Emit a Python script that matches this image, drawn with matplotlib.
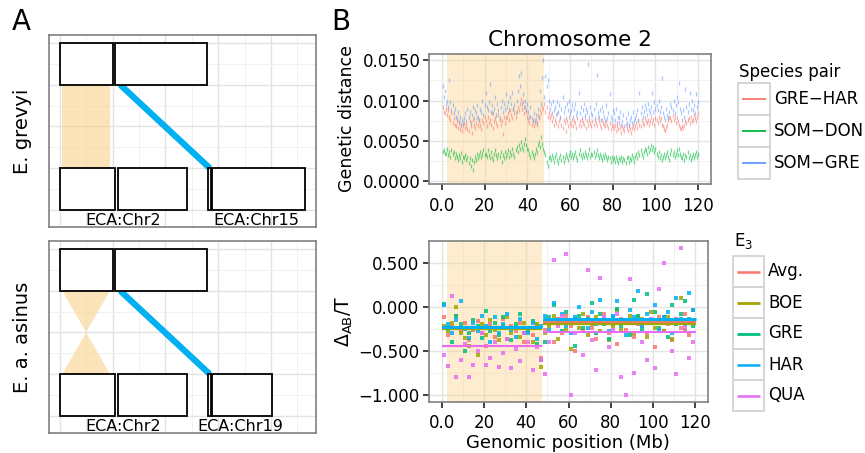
import matplotlib
matplotlib.use('Agg')
import matplotlib.pyplot as plt
from matplotlib.patches import Rectangle, Polygon
import numpy as np

plt.rcParams['font.family'] = ['DejaVu Sans']
plt.rcParams['mathtext.default'] = 'regular'

# ---------------- data ----------------
# panel A: chromosome blocks (Mb), top row is ECA2 split in two blocks
top_starts = [0, 52.5]
top_ends = [50.5, 139.3]
grevyi_starts = [0, 54.7, 140.6, 144.4]
grevyi_ends = [52.1, 120.1, 142.8, 232.2]
asinus_starts = [0, 54.7, 140.6, 144.4]
asinus_ends = [52.1, 120.1, 142.8, 201.0]
grevyi_labels = ['ECA:Chr2', 'ECA:Chr15']
grevyi_label_x = [60, 186.4]
asinus_labels = ['ECA:Chr2', 'ECA:Chr19']
asinus_label_x = [60, 170.8]
inversion = (2.1, 47.5)
link_x = [57, 142]

# panel B top: genetic distance per 0.5 Mb window (x 1e-4)
pairs = ['GRE\u2212HAR', 'SOM\u2212DON', 'SOM\u2212GRE']
pair_colors = ['#F8766D', '#00BA38', '#619CFF']
gre_har = [
    92, 86, 84, 90, 82, 88, 80, 76, 84, 72, 78, 70, 68, 74, 66, 72, 64, 70, 62, 68,
    72, 66, 70, 64, 62, 74, 68, 60, 76, 70, 66, 72, 78, 68, 74, 70, 64, 76, 72, 80,
    74, 68, 80, 72, 76, 70, 84, 66, 74, 78, 72, 68, 82, 76, 70, 74, 58, 80, 72, 78,
    80, 84, 76, 88, 82, 78, 90, 84, 80, 86, 92, 88, 96, 102, 90, 98, 84, 92, 86, 80,
    76, 72, 80, 70, 74, 68, 72, 76, 70, 82, 78, 88, 84, 92, 90, 96, 86, 92, 80, 84,
    78, 82, 74, 80, 70, 76, 72, 84, 68, 74, 78, 70, 66, 76, 72, 62, 74, 68, 80, 72,
    70, 76, 68, 74, 72, 66, 78, 70, 74, 68, 76, 72, 70, 78, 66, 74, 70, 76, 72, 68,
    74, 70, 76, 72, 68, 78, 74, 70, 66, 76, 72, 70, 68, 74, 70, 66, 72, 64, 70, 68,
    66, 70, 62, 68, 64, 72, 66, 60, 68, 64, 62, 70, 66, 62, 68, 64, 60, 66, 70, 64,
    68, 72, 66, 74, 70, 68, 76, 72, 70, 78, 74, 72, 76, 70, 74, 80, 72, 76, 70, 78,
    76, 72, 80, 74, 78, 70, 68, 64, 62, 66, 70, 76, 80, 78, 74, 82, 76, 80, 72, 78,
    74, 70, 66, 64, 68, 66, 70, 74, 72, 76, 78, 72, 80, 74, 76, 82, 78, 74, 80, 84,
]
som_don = [
    36, 38, 34, 35, 40, 32, 36, 30, 38, 33, 36, 28, 34, 30, 26, 32, 28, 35, 24, 30,
    28, 32, 26, 30, 22, 28, 18, 26, 14, 24, 30, 26, 34, 28, 32, 36, 30, 34, 38, 32,
    34, 30, 38, 32, 28, 36, 30, 26, 34, 38, 32, 28, 34, 30, 36, 24, 32, 28, 36, 30,
    34, 38, 30, 36, 32, 40, 34, 30, 38, 42, 36, 44, 40, 48, 42, 38, 46, 52, 44, 40,
    38, 34, 30, 36, 32, 28, 34, 40, 36, 44, 48, 42, 54, 46, 40, 36, 32, 24, 18, 28,
    30, 26, 32, 28, 24, 30, 34, 26, 22, 28, 32, 26, 30, 24, 28, 34, 30, 26, 32, 36,
    30, 34, 28, 32, 36, 30, 26, 34, 38, 32, 28, 34, 30, 36, 32, 28, 34, 40, 30, 34,
    32, 36, 30, 34, 38, 32, 28, 34, 30, 26, 32, 28, 34, 30, 26, 30, 28, 24, 30, 26,
    28, 24, 30, 26, 22, 28, 26, 30, 24, 28, 26, 22, 28, 30, 24, 28, 26, 32, 28, 24,
    30, 34, 28, 36, 32, 38, 34, 30, 36, 40, 38, 34, 42, 36, 40, 44, 38, 42, 36, 40,
    34, 30, 36, 28, 32, 26, 30, 34, 28, 32, 36, 30, 26, 34, 38, 32, 36, 30, 34, 38,
    32, 40, 34, 30, 28, 34, 26, 32, 30, 36, 28, 32, 26, 30, 34, 28, 32, 36, 30, 34,
]
som_gre = [
    118, 105, 112, 96, 100, 92, 125, 98, 88, 95, 84, 90, 80, 78, 86, 74, 80, 70, 76, 72,
    78, 84, 74, 90, 80, 86, 72, 82, 92, 78, 88, 84, 95, 80, 76, 90, 86, 100, 82, 94,
    110, 92, 88, 98, 120, 86, 94, 84, 90, 104, 82, 96, 88, 78, 92, 100, 86, 96, 90, 108,
    92, 98, 88, 104, 96, 110, 90, 94, 86, 100, 112, 130, 118, 134, 96, 108, 92, 100, 88, 96,
    86, 80, 92, 78, 74, 84, 76, 82, 72, 90, 80, 112, 96, 128, 150, 104, 130, 118, 125, 100,
    90, 96, 84, 100, 88, 92, 82, 98, 86, 94, 80, 90, 104, 86, 92, 78, 96, 88, 100, 84,
    88, 94, 80, 90, 96, 82, 86, 110, 84, 92, 78, 88, 96, 82, 90, 86, 145, 80, 92, 84,
    82, 90, 78, 96, 132, 84, 80, 88, 76, 92, 86, 80, 74, 94, 78, 84, 108, 80, 76, 88,
    84, 76, 90, 72, 80, 78, 86, 70, 74, 82, 68, 78, 72, 84, 70, 76, 80, 72, 86, 74,
    78, 82, 88, 76, 110, 84, 92, 80, 86, 94, 90, 82, 96, 88, 84, 92, 110, 86, 98, 90,
    94, 88, 100, 86, 92, 128, 84, 80, 76, 90, 82, 78, 86, 96, 92, 88, 100, 84, 94, 104,
    98, 122, 90, 84, 76, 88, 80, 114, 92, 86, 96, 110, 90, 100, 88, 94, 84, 108, 92, 98,
]

# panel B bottom: Delta_AB/T per 2 Mb window (x 0.01)
e3_names = ['Avg.', 'BOE', 'GRE', 'HAR', 'QUA']
e3_colors = ['#F8766D', '#A3A500', '#00BF7D', '#00B0F6', '#E76BF3']
d_avg = [-12, -32, -22, -10, -28, -18, -38, -26, -16, -30, -44, -20, -34, -24, -14, -36, -22, -28, -18, -40, -24, -32, -20, -58,
         -26, -20, -40, -14, -30, -10, -22, -50, -18, -28, -12, -24, -36, -16, -8, -30, -20, -42, -14, -26, -18, -34, -10, -22,
         -30, -16, -46, -12, -28, -20, -38, -14, -24, -8, -32, -18]
d_boe = [-22, -28, -18, 0, -30, -35, -45, -25, -55, -20, -32, -15, -26, -38, -22, -12, -30, -24, -34, -18, -28, -40, -20, -68,
         -30, -22, -10, -36, -18, -26, -48, -14, -24, -8, -32, -20, -12, -28, -16, -38, -22, -4, -26, -18, -10, -30, -20, -14,
         -34, -6, -24, -16, -28, -12, -36, -20, 10, -26, -18, -4]
d_gre = [3, -25, -40, -10, -20, -50, -30, -15, -22, -35, -5, -28, -18, -32, -12, -24, -38, -20, -8, -30, -26, -16, -42, -60,
         -40, -12, 2, -20, -28, -6, -18, -45, -10, -24, -14, 4, -30, -8, -20, -36, -12, -2, -22, -16, -32, 8, -10, -26,
         14, -18, -6, -24, -12, -34, 2, -20, -8, 6, -14, -22]
d_har = [2, -20, -30, -15, 6, -25, -35, -18, -28, -10, -22, -40, -12, -30, -20, -8, -26, -34, -14, -24, -30, -18, -36, -22,
         -10, -26, 4, -18, -8, -22, -30, -12, 0, -16, -24, -6, -20, 8, -14, -28, -10, 6, -18, -32, -4, -12, 18, -22,
         -8, -16, 2, -26, -12, -6, -30, 10, -14, -20, 16, -4]
d_qua = [-55, -67, 12, -80, -60, -42, -80, -66, -50, -30, -66, -58, -40, -68, -52, -36, -70, -48, -62, -30, -40, -72, -46, -60,
         -76, -40, 53, -22, -10, 60, -100, -30, -18, -55, 42, -38, -72, 33, -12, -46, -26, -8, -80, -100, 32, -75, -20, -40,
         -60, -14, -70, 20, 50, -18, -50, -76, 67, -24, -58, -40]
# segment means (inside / outside the inversion)
seg_bounds = [(0, 47.5), (47.7, 120.5)]
seg_means = [[-0.24, -0.17], [-0.25, -0.19], [-0.235, -0.155], [-0.225, -0.14], [-0.45, -0.29]]
seg_lw = [1.4, 1.6, 1.6, 2.1, 1.5]

W, H = 865, 453
fig = plt.figure(figsize=(W / 100, H / 100), dpi=100)


def px_axes(x0, y0, x1, y1):
    return fig.add_axes([x0 / W, 1 - y1 / H, (x1 - x0) / W, (y1 - y0) / H])


def frame(ax):
    for s in ax.spines.values():
        s.set_color('#808080')
        s.set_linewidth(1.2)
    ax.set_axisbelow(True)
    ax.grid(which='major', color='#E3E3E3', lw=1.0)
    ax.grid(which='minor', color='#F1F1F1', lw=0.7)


shade_col = '#FBD38D'


# ---------------- panel A ----------------
def karyo(ax, b_starts, b_ends, labels, label_x, bowtie):
    ax.set_xlim(-10.4, 242.7)
    ax.set_ylim(-0.41, 4.19)
    ax.set_xticks([0, 50, 100, 150, 200])
    ax.set_xticks([25, 75, 125, 175, 225], minor=True)
    ax.set_yticks([0, 1, 2, 3, 4])
    ax.set_yticks([0.5, 1.5, 2.5, 3.5], minor=True)
    ax.tick_params(which='both', length=0, labelbottom=False, labelleft=False)
    frame(ax)
    a, b = inversion
    if bowtie:
        ax.add_patch(Polygon([(a, 3), (b, 3), ((a + b) / 2, 2)], fc=shade_col, alpha=0.6, lw=0, zorder=2))
        ax.add_patch(Polygon([(a, 1), (b, 1), ((a + b) / 2, 2)], fc=shade_col, alpha=0.6, lw=0, zorder=2))
    else:
        ax.add_patch(Rectangle((a, 1), b - a, 2, fc=shade_col, alpha=0.6, lw=0, zorder=2))
    ax.plot(link_x, [3, 1], color='#00B0F0', lw=4.5, solid_capstyle='butt', zorder=2.5)
    for s, e in zip(top_starts, top_ends):
        ax.add_patch(Rectangle((s, 3), e - s, 1, fc='white', ec='black', lw=1.3, zorder=3))
    for s, e in zip(b_starts, b_ends):
        ax.add_patch(Rectangle((s, 0), e - s, 1, fc='white', ec='black', lw=1.3, zorder=3))
    for lab, x in zip(labels, label_x):
        ax.text(x, -0.26, lab, ha='center', va='center', fontsize=11.5, zorder=4)


axA1 = px_axes(49, 35, 316, 227)
karyo(axA1, grevyi_starts, grevyi_ends, grevyi_labels, grevyi_label_x, False)
axA2 = px_axes(49, 241, 316, 433)
karyo(axA2, asinus_starts, asinus_ends, asinus_labels, asinus_label_x, True)


# ---------------- panel B ----------------
def style_b(ax, xpad, ypad):
    frame(ax)
    ax.set_xlim(-6, 126)
    ax.set_xticks([0, 20, 40, 60, 80, 100, 120])
    ax.set_xticklabels(['0.0', '20', '40', '60', '80', '100', '120'])
    ax.set_xticks([10, 30, 50, 70, 90, 110], minor=True)
    ax.tick_params(which='major', length=4.5, width=1.3, color='#333333', labelsize=12)
    ax.tick_params(axis='x', pad=xpad)
    ax.tick_params(axis='y', pad=ypad)
    ax.tick_params(which='minor', length=0)


axB1 = px_axes(429, 54, 711, 184)
style_b(axB1, 5, 1.5)
axB1.set_ylim(-0.0004, 0.0158)
axB1.set_yticks([0, 0.005, 0.01, 0.015])
axB1.set_yticklabels(['0.0000', '0.0050', '0.0100', '0.0150'])
axB1.set_yticks([0.0025, 0.0075, 0.0125], minor=True)
axB1.axvspan(2.3, 47.6, color=shade_col, alpha=0.42, lw=0, zorder=1)
for vals, c in zip([gre_har, som_don, som_gre], pair_colors):
    x = np.arange(1, len(vals) + 1) * 0.5
    axB1.plot(x, np.array(vals) * 1e-4, ls='none', marker='|', ms=2.4, mew=0.9,
              color=c, alpha=0.55, zorder=2)

axB2 = px_axes(429, 241, 708, 402)
style_b(axB2, 4, 2.5)
axB2.set_ylim(-1.08, 0.746)
axB2.set_yticks([-1, -0.5, 0, 0.5])
axB2.set_yticklabels(['\u22121.000', '\u22120.500', '0.000', '0.500'])
axB2.set_yticks([-0.75, -0.25, 0.25], minor=True)
axB2.axvspan(2.3, 47.6, color=shade_col, alpha=0.42, lw=0, zorder=1)
for vals, c in zip([d_avg, d_boe, d_gre, d_har, d_qua], e3_colors):
    x = np.arange(len(vals)) * 2 + 1
    axB2.scatter(x, np.array(vals) * 0.01, marker='s', s=5.5, lw=0, color=c, alpha=0.85, zorder=2)
for means, c, lw in zip(seg_means, e3_colors, seg_lw):
    for (x0, x1), m in zip(seg_bounds, means):
        axB2.plot([x0, x1], [m, m], color=c, lw=lw, solid_capstyle='butt', zorder=3)

# ---------------- text + legends (figure pixel overlay) ----------------
ov = fig.add_axes([0, 0, 1, 1])
ov.set_xlim(0, W)
ov.set_ylim(H, 0)
ov.axis('off')

ov.text(21, 22, 'A', fontsize=20, ha='center', va='center')
ov.text(341, 22, 'B', fontsize=20, ha='center', va='center')
ov.text(23, 131, 'E. grevyi', fontsize=14, rotation=90, ha='center', va='center')
ov.text(23, 337, 'E. a. asinus', fontsize=14, rotation=90, ha='center', va='center')
ov.text(570, 40, 'Chromosome 2', fontsize=15.5, ha='center', va='center')
ov.text(347, 119, 'Genetic distance', fontsize=12.5, rotation=90, ha='center', va='center')
ov.text(344, 321, r'$\Delta_{AB}/T$', fontsize=13.5, rotation=90, ha='center', va='center')
ov.text(568, 443, 'Genomic position (Mb)', fontsize=13, ha='center', va='center')


def legend(title, labels, colors, lws, x0, y_title, y0, kw, kh):
    ov.text(x0 + 1, y_title, title, fontsize=12, ha='left', va='center')
    for i, (lab, c, lw) in enumerate(zip(labels, colors, lws)):
        y = y0 + i * kh
        ov.add_patch(Rectangle((x0, y), kw, kh, fc='white', ec='#D3D3D3', lw=1.3))
        ov.plot([x0 + 4, x0 + kw - 4], [y + kh / 2] * 2, color=c, lw=lw, solid_capstyle='butt')
        ov.text(x0 + kw + 4, y + kh / 2, lab, fontsize=12, ha='left', va='center')


legend('Species pair', pairs, pair_colors, [1.3] * 3, 738, 72, 83, 32, 32)
legend('E$_3$', e3_names, e3_colors, [1.8, 2.0, 2.0, 1.8, 1.8], 733, 241, 256, 31, 31)

fig.savefig('out.png', dpi=100)
